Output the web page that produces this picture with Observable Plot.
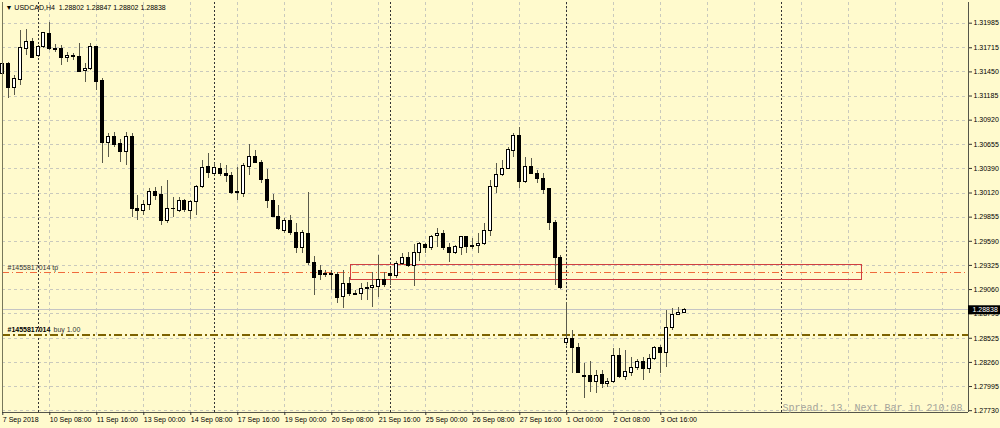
<!DOCTYPE html>
<html><head><meta charset="utf-8">
<script src="https://cdn.jsdelivr.net/npm/d3@7"></script>
<script src="https://cdn.jsdelivr.net/npm/@observablehq/plot@0.6"></script>
<style>
html,body{margin:0;padding:0;background:#fffacd;overflow:hidden;}
</style></head><body><div id="chart"></div>
<script>
// ---- data (USDCAD H4, bar index 0 = 7 Sep 2018 00:00) ----
const symbol = "USDCAD,H4";
const opens = [1.31432,1.31542,1.31268,1.31356,1.31696,1.31773,1.31630,1.31718,1.31861,1.31696,
1.31696,1.31608,1.31619,1.31619,1.31465,1.31487,1.31718,1.31345,1.30664,1.30730,
1.30653,1.30565,1.30730,1.29950,1.29928,1.29983,1.30126,1.30093,1.29818,1.29950,
1.29928,1.30027,1.29928,1.30016,1.30181,1.30411,1.30334,1.30389,1.30334,1.30302,
1.30126,1.30104,1.30411,1.30521,1.30455,1.30258,1.30027,1.29862,1.29698,1.29818,
1.29676,1.29511,1.29665,1.29357,1.29269,1.29225,1.29236,1.29225,1.28973,1.29116,
1.29006,1.29006,1.29066,1.29072,1.29083,1.29160,1.29236,1.29204,1.29346,1.29401,
1.29324,1.29456,1.29544,1.29511,1.29643,1.29665,1.29511,1.29456,1.29511,1.29632,
1.29533,1.29533,1.29555,1.29698,1.30181,1.30313,1.30389,1.30576,1.30741,1.30236,
1.30411,1.30334,1.30269,1.30159,1.29786,1.29401,1.28468,1.28512,1.28413,1.28106,
1.28106,1.28040,1.28117,1.28018,1.28040,1.28325,1.28095,1.28149,1.28204,1.28270,
1.28193,1.28292,1.28413,1.28358,1.28633,1.28786,1.28802];
const highs = [1.31630,1.31553,1.31411,1.31905,1.31916,1.31817,1.31740,1.31883,1.31992,1.31751,
1.31740,1.31663,1.31652,1.31762,1.31542,1.31762,1.31729,1.31378,1.30774,1.30785,
1.30708,1.30785,1.30774,1.30093,1.30038,1.30170,1.30181,1.30192,1.30258,1.30071,
1.30071,1.30049,1.30038,1.30203,1.30477,1.30554,1.30444,1.30444,1.30422,1.30345,
1.30400,1.30444,1.30653,1.30587,1.30477,1.30378,1.30104,1.29983,1.29840,1.29873,
1.29786,1.29709,1.30126,1.29423,1.29324,1.29269,1.29269,1.29247,1.29269,1.29193,
1.29050,1.29127,1.29138,1.29247,1.29434,1.29247,1.29291,1.29368,1.29456,1.29467,
1.29555,1.29577,1.29566,1.29654,1.29731,1.29709,1.29566,1.29544,1.29643,1.29643,
1.29621,1.29676,1.29786,1.30258,1.30444,1.30477,1.30620,1.30774,1.30840,1.30510,
1.30499,1.30367,1.30334,1.30170,1.29818,1.29434,1.28918,1.28611,1.28468,1.28248,
1.28270,1.28171,1.28171,1.28084,1.28413,1.28413,1.28391,1.28314,1.28292,1.28314,
1.28347,1.28435,1.28446,1.28830,1.28852,1.28863,1.28847];
const lows = [1.31312,1.31158,1.31191,1.31301,1.31630,1.31597,1.31608,1.31707,1.31685,1.31663,
1.31520,1.31553,1.31575,1.31443,1.31334,1.31465,1.31246,1.30444,1.30510,1.30620,
1.30455,1.30422,1.29851,1.29818,1.29873,1.29928,1.30038,1.29764,1.29786,1.29851,
1.29906,1.29906,1.29829,1.29873,1.30170,1.30280,1.30313,1.30302,1.30236,1.30104,
1.30038,1.30071,1.30313,1.30444,1.30225,1.29950,1.29851,1.29709,1.29676,1.29654,
1.29456,1.29456,1.29324,1.28995,1.29160,1.29193,1.29050,1.28907,1.28852,1.28984,
1.28995,1.28940,1.28940,1.28863,1.28973,1.29083,1.29105,1.29182,1.29324,1.29302,
1.29094,1.29368,1.29456,1.29489,1.29522,1.29489,1.29357,1.29445,1.29434,1.29456,
1.29500,1.29456,1.29544,1.29643,1.30115,1.30302,1.30378,1.30510,1.30170,1.30225,
1.30323,1.30225,1.30104,1.29709,1.29105,1.29061,1.28446,1.28138,1.28138,1.27864,
1.27930,1.27919,1.27974,1.27985,1.28029,1.28084,1.28062,1.28106,1.28171,1.28062,
1.28138,1.28281,1.28138,1.28204,1.28611,1.28775,1.28802];
const closes = [1.31542,1.31268,1.31367,1.31707,1.31773,1.31608,1.31718,1.31872,1.31696,1.31690,
1.31608,1.31630,1.31622,1.31454,1.31487,1.31718,1.31334,1.30664,1.30730,1.30642,
1.30565,1.30730,1.29950,1.29928,1.29983,1.30126,1.30082,1.29818,1.29950,1.29945,
1.30027,1.29939,1.30016,1.30181,1.30400,1.30345,1.30400,1.30334,1.30302,1.30115,
1.30120,1.30422,1.30521,1.30455,1.30258,1.30027,1.29862,1.29720,1.29818,1.29676,
1.29511,1.29676,1.29357,1.29182,1.29225,1.29236,1.29225,1.28962,1.29116,1.29006,
1.29000,1.29061,1.29072,1.29094,1.29160,1.29105,1.29204,1.29346,1.29401,1.29324,
1.29456,1.29555,1.29511,1.29632,1.29665,1.29511,1.29456,1.29522,1.29632,1.29522,
1.29530,1.29555,1.29698,1.30181,1.30313,1.30389,1.30587,1.30741,1.30236,1.30411,
1.30334,1.30269,1.30148,1.29786,1.29401,1.29072,1.28512,1.28413,1.28149,1.28100,
1.28040,1.28106,1.28018,1.28040,1.28325,1.28095,1.28160,1.28204,1.28270,1.28193,
1.28292,1.28413,1.28358,1.28633,1.28786,1.28808,1.28838];

const priceTicks = [1.31985,1.31715,1.31450,1.31185,1.30920,1.30655,1.30390,1.30120,1.29855,
1.29590,1.29325,1.29060,1.28795,1.28525,1.28260,1.27995,1.27730];
const timeLabels = ["7 Sep 2018","10 Sep 08:00","11 Sep 16:00","13 Sep 00:00","14 Sep 08:00",
"17 Sep 16:00","19 Sep 00:00","20 Sep 08:00","21 Sep 16:00","25 Sep 00:00","26 Sep 08:00",
"27 Sep 16:00","1 Oct 00:00","2 Oct 08:00","3 Oct 16:00"];
const labelBars = [0,8,16,24,32,40,48,56,64,72,80,88,96,104,112];
const gridBars = [8,16,24,32,40,48,56,64,72,80,88,96,104,112,120,128,136,144,152,160];
const separatorBars = [6,36,66,96,132.5];

const orderId = "#1455817014";
const tpPrice = 1.29251;
const buyPrice = 1.28563;
const buyLots = "1.00";
const zone = {x1: 59.2, x2: 146.3, y1: 1.29335, y2: 1.29167};
const spreadText = "Spread: 13. Next Bar in 210:08";

const xDomain = [-0.05, 164.37];
const yDomain = [1.27710, 1.32212];

// ---- build ----
const W = 1000, H = 428, mL = 2, mR = 32, mT = 2, mB = 16;
const barPx = (W - mL - mR) / (xDomain[1] - xDomain[0]);
const n = opens.length;
const bars = opens.map((o, i) => ({i, o, h: highs[i], l: lows[i], c: closes[i], up: closes[i] >= o}));
const last = bars[n - 1];
const fmt = v => v.toFixed(5);
const header = `\u25BC ${symbol}  ${fmt(last.o)} ${fmt(last.h)} ${fmt(last.l)} ${fmt(last.c)}`;

const chart = Plot.plot({
  width: W, height: H, marginLeft: mL, marginRight: mR, marginTop: mT, marginBottom: mB,
  style: {background: "#fffacd", fontFamily: "'Liberation Sans', Arial, 'DejaVu Sans', sans-serif", fontSize: "7px", color: "#000"},
  x: {type: "linear", domain: xDomain, axis: null},
  y: {type: "linear", domain: yDomain, axis: null},
  marks: [
    Plot.ruleY(priceTicks, {stroke: "#c9c9bd", strokeDasharray: "3,3", shapeRendering: "crispEdges"}),
    Plot.ruleX(gridBars, {stroke: "#c9c9bd", strokeDasharray: "3,3", shapeRendering: "crispEdges"}),
    Plot.ruleX(separatorBars, {stroke: "#333", strokeDasharray: "2,2", shapeRendering: "crispEdges"}),
    Plot.ruleY([last.c], {stroke: "#c4c4c4", shapeRendering: "crispEdges"}),
    Plot.ruleY([tpPrice], {stroke: "#f06a3c", strokeDasharray: "7,3,1,3", shapeRendering: "crispEdges"}),
    Plot.ruleY([buyPrice], {stroke: "#7d6200", strokeWidth: 2, strokeDasharray: "8,3,2,3", shapeRendering: "crispEdges"}),
    Plot.rect([zone], {x1: "x1", x2: "x2", y1: "y1", y2: "y2", fill: "none", stroke: "#d04040", shapeRendering: "crispEdges"}),
    Plot.ruleX(bars, {x: "i", y1: "l", y2: "h", stroke: "#5a5a4a", shapeRendering: "crispEdges"}),
    Plot.rect(bars, {x1: d => d.i - 0.5, x2: d => d.i + 0.5, y1: "o", y2: "c", insetLeft: 1.45, insetRight: 1.45,
      fill: d => d.up ? "#ffffff" : "#000000", stroke: "#000", shapeRendering: "crispEdges"}),
    // frame lines
    Plot.ruleX([xDomain[0]], {stroke: "#77775a"}),
    Plot.ruleX([xDomain[1]], {stroke: "#55554a"}),
    Plot.ruleY([yDomain[0]], {stroke: "#55554a"}),
    // axes
    Plot.axisY(priceTicks, {anchor: "right", tickSize: 3, tickPadding: 2, tickFormat: fmt, fontSize: 7, stroke: "#333"}),
    Plot.axisX(labelBars, {anchor: "bottom", tickSize: 3, tickPadding: 2, textAnchor: "start", fontSize: 7,
      tickFormat: d => timeLabels[labelBars.indexOf(d)], stroke: "#333"}),
    // texts
    Plot.text([header], {frameAnchor: "top-left", dx: 3, dy: 3, lineAnchor: "top", textAnchor: "start", fontSize: 7, fill: "#000"}),
    Plot.text([tpPrice], {x: xDomain[0], y: d => d, text: () => `${orderId} tp`, dx: 5, dy: -2,
      textAnchor: "start", lineAnchor: "bottom", fontSize: 7, fill: "#333"}),
    Plot.text([buyPrice], {x: xDomain[0], y: d => d, text: () => orderId, dx: 5, dy: -2.5,
      textAnchor: "start", lineAnchor: "bottom", fontSize: 7, fontWeight: "bold", fill: "#000"}),
    Plot.text([buyPrice], {x: xDomain[0], y: d => d, text: () => `buy ${buyLots}`, dx: 51, dy: -2.5,
      textAnchor: "start", lineAnchor: "bottom", fontSize: 7, fill: "#333"}),
    Plot.text([spreadText], {frameAnchor: "bottom-right", dx: -6, dy: -2, lineAnchor: "bottom", textAnchor: "end",
      fontFamily: "'Liberation Mono', 'DejaVu Sans Mono', monospace", fontSize: 10, fill: "#a3a39a"}),
    // current price label
    Plot.ruleY([last.c], {x1: xDomain[1], x2: xDomain[1] + mR / barPx, stroke: "#000", strokeWidth: 9, clip: false}),
    Plot.text([last.c], {x: xDomain[1], y: d => d, text: d => fmt(d), dx: 4, textAnchor: "start", fill: "#fff", fontSize: 7})
  ]
});
document.getElementById("chart").appendChild(chart);
</script>
</body></html>
